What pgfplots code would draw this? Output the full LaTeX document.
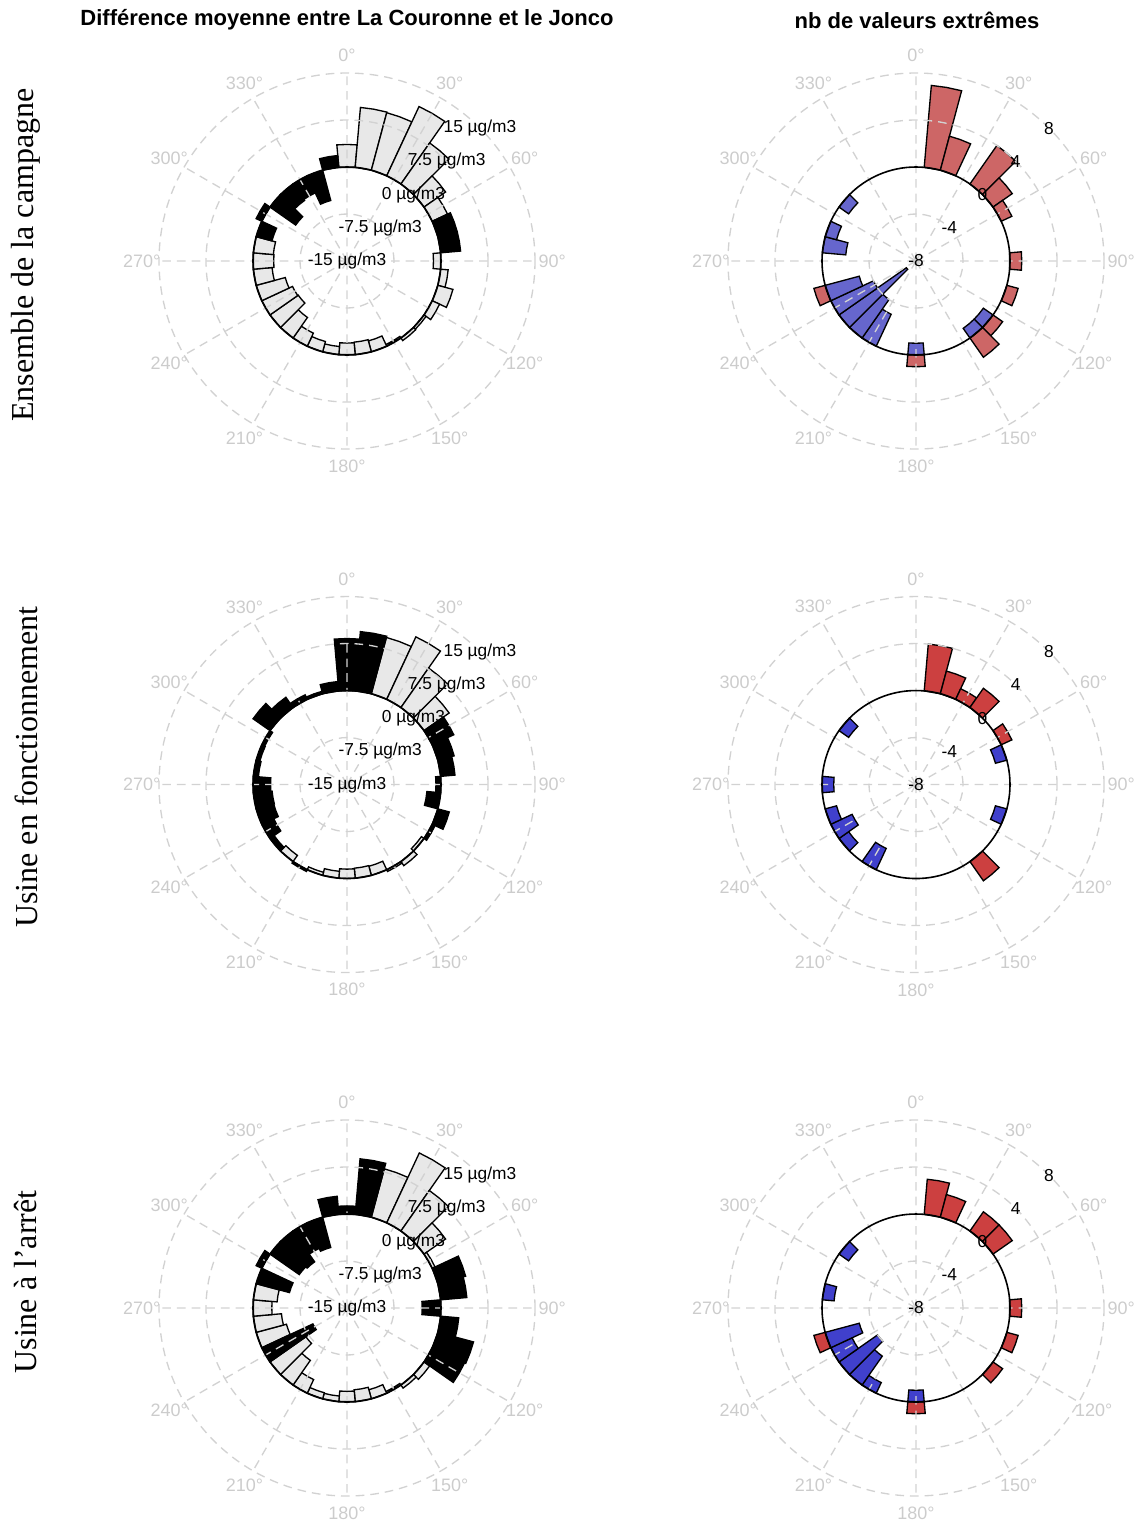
\documentclass[border=0pt]{standalone}
\usepackage{fontspec}
\setmainfont{Liberation Sans}
\newfontfamily\timesfont{Liberation Serif}
\usepackage{pgfplots}
\usepackage{pgfplotstable}
\pgfplotsset{compat=1.18}
\usepgfplotslibrary{polar}

\definecolor{bargray}{RGB}{232,232,232}
\definecolor{gridgray}{RGB}{210,210,210}
\definecolor{labgray}{RGB}{204,204,204}
\definecolor{redA}{RGB}{205,102,102}
\definecolor{blueA}{RGB}{102,102,205}
\definecolor{redB}{RGB}{204,64,64}
\definecolor{blueB}{RGB}{64,64,204}

% ---- Panel 1 : ensemble de la campagne (difference moyenne)
\pgfplotstableread{
a v
0 3.6
10 9.6
20 9.5
30 12.2
40 8.0
50 4.2
60 2.7
90 -1.2
100 1.2
110 2.5
120 1.3
130 0.4
140 0.5
150 -0.3
160 -1.8
170 -2.0
180 -1.9
190 -1.3
200 -1.7
210 -2.3
220 -4.0
230 -5.5
240 -5.4
250 -4.8
260 -3.0
270 -3.3
280 -3.2
}\tAg
\pgfplotstableread{
a v
70 3.2
80 3.2
290 -2.6
300 1.0
310 -5.0
320 -3.2
330 -3.0
340 -5.0
350 1.9
}\tAb
% ---- Panel 3 : usine en fonctionnement
\pgfplotstableread{
a v
20 9.3
30 11.0
40 7.7
50 4.9
130 -0.5
140 0.8
150 0.3
160 -1.5
170 -1.6
180 -1.5
190 -1.1
200 -0.5
220 -1.2
}\tBg
\pgfplotstableread{
a v
0 8.3
10 9.5
60 3.8
70 2.7
80 2.3
90 -0.8
100 -2.2
110 1.9
120 0.5
210 0.3
230 -0.8
240 -2.1
250 -2.9
260 -3.0
270 -2.8
280 -0.8
290 -0.6
300 -0.5
310 3.3
320 2.0
330 0.8
340 0.4
350 1.5
}\tBb
% ---- Panel 5 : usine a l'arret
\pgfplotstableread{
a v
20 8.0
30 12.3
40 7.9
50 4.2
60 0.5
130 1.1
140 0.6
150 -0.3
160 -1.5
170 -1.9
180 -1.7
190 -0.9
200 -1.0
210 -2.4
220 -4.8
230 -7.0
250 -5.0
260 -4.5
270 -3.0
280 -3.8
}\tCg
\pgfplotstableread{
a v
0 1.3
10 8.9
70 4.6
80 4.2
90 -3.0
100 2.9
110 5.9
120 5.7
240 -9.0
290 -5.5
300 1.0
310 -5.7
320 -6.0
330 -4.5
340 -5.0
350 2.9
}\tCb
% ---- Right panels : nb de valeurs extremes (positive = red, negative = blue)
\pgfplotstableread{
a v
10 7
20 3
40 4
50 2
60 1
90 1
110 1
130 1
140 2
180 1
250 1
}\tDr
\pgfplotstableread{
a v
130 -1
140 -1
180 -1
210 -3
220 -4
230 -7
240 -4
250 -3
280 -2
290 -1
310 -1
}\tDb
\pgfplotstableread{
a v
10 4
20 2
30 1
40 2
60 1
140 2
}\tEr
\pgfplotstableread{
a v
70 -1
110 -1
210 -2
230 -1
240 -2
250 -1
270 -1
310 -1
}\tEb
\pgfplotstableread{
a v
10 3
20 2
40 2
50 2
90 1
110 1
130 1
180 1
250 1
}\tFr
\pgfplotstableread{
a v
180 -1
210 -1
220 -3
230 -4
240 -2
250 -3
280 -1
310 -1
}\tFb

% bars of 10 degrees, compass angle a, value v, baseline radius #3
\newcommand{\polarbars}[3]{%
  \pgfplotstablegetrowsof{#1}%
  \pgfmathtruncatemacro{\nlast}{\pgfplotsretval-1}%
  \pgfplotsforeachungrouped \i in {0,...,\nlast}{%
    \pgfplotstablegetelem{\i}{a}\of{#1}\let\ba\pgfplotsretval
    \pgfplotstablegetelem{\i}{v}\of{#1}\let\bv\pgfplotsretval
    \pgfmathsetmacro{\tA}{90-\ba+5}%
    \pgfmathsetmacro{\tM}{90-\ba}%
    \pgfmathsetmacro{\tB}{90-\ba-5}%
    \pgfmathsetmacro{\rr}{#3+\bv}%
    \edef\barcmd{\noexpand\addplot[fill=#2,draw=black,line width=1pt,line join=miter] coordinates {(\tA,#3) (\tA,\rr) (\tM,\rr) (\tB,\rr) (\tB,#3)} -- cycle;}%
    \barcmd
  }%
}

\newcommand{\lfont}{\fontsize{13}{14}\selectfont}
\newcommand{\afont}{\fontsize{13.5}{14}\selectfont}
\newcommand{\anglelabels}[1]{%
  \foreach \c in {0,30,...,330}{%
    \pgfmathsetmacro{\mth}{90-\c}%
    \node[text=labgray, font=\afont, inner sep=0pt] at (axis cs:\mth,#1) {\c°};
  }%
}
\pgfplotsset{
  rosebase/.style={
    scale only axis, width=282pt, height=282pt,
    ymin=0,
    xtick={0,30,...,330},
    xticklabels={},
    yticklabels={},
    grid=major,
    major grid style={gridgray, line width=1pt, dash pattern=on 6.5pt off 4.5pt},
    axis line style={draw=none},
    major tick length=0pt,
    axis on top,
    anchor=center,
    clip=false,
    extra y tick labels={},
    extra y tick style={grid=major, major grid style={black, solid, line width=1.2pt}},
  },
  roseleft/.style={rosebase, ymax=30, ytick={7.5,22.5,30}, extra y ticks={15},
    after end axis/.append code={
      \anglelabels{32.75}
      \node[font=\lfont] at (axis cs:45,30) {15 µg/m3};
      \node[font=\lfont] at (axis cs:45,22.5) {7.5 µg/m3};
      \node[font=\lfont] at (axis cs:45,15) {0 µg/m3};
      \node[font=\lfont] at (axis cs:45,7.5) {-7.5 µg/m3};
      \node[font=\lfont] at (axis cs:45,0) {-15 µg/m3};
    }},
  roseright/.style={rosebase, ymax=16, ytick={4,12,16}, extra y ticks={8},
    after end axis/.append code={
      \anglelabels{17.47}
      \node[font=\lfont] at (axis cs:45,16) {8};
      \node[font=\lfont] at (axis cs:45,12) {4};
      \node[font=\lfont] at (axis cs:45,8) {0};
      \node[font=\lfont] at (axis cs:45,4) {-4};
      \node[font=\lfont] at (axis cs:45,0) {-8};
    }},
}

\begin{document}
\begin{tikzpicture}
\path[use as bounding box] (0pt,0pt) rectangle (853.5pt,-1140.75pt);

% titles
\node[font=\bfseries\fontsize{16.5}{18}\selectfont] at (260.25pt,-15pt) {Différence moyenne entre La Couronne et le Jonco};
\node[font=\bfseries\fontsize{16.5}{18}\selectfont] at (687.75pt,-15pt) {nb de valeurs extrêmes};
% row labels
\node[rotate=90, font=\timesfont\fontsize{24}{26}\selectfont] at (19.5pt,-191.25pt) {Ensemble de la campagne};
\node[rotate=90, font=\timesfont\fontsize{24}{26}\selectfont] at (19.5pt,-575.25pt) {Usine en fonctionnement};
\node[rotate=90, font=\timesfont\fontsize{24}{26}\selectfont] at (19.5pt,-961.5pt) {Usine à l’arrêt};

% ---- row 1
\begin{polaraxis}[roseleft, at={(260.25pt,-195.75pt)}]
\polarbars{\tAg}{bargray}{15}
\polarbars{\tAb}{black}{15}
\end{polaraxis}
\begin{polaraxis}[roseright, at={(687pt,-195.75pt)}]
\polarbars{\tDr}{redA}{8}
\polarbars{\tDb}{blueA}{8}
\end{polaraxis}

% ---- row 2
\begin{polaraxis}[roseleft, at={(260.25pt,-588.4pt)}]
\polarbars{\tBg}{bargray}{15}
\polarbars{\tBb}{black}{15}
\end{polaraxis}
\begin{polaraxis}[roseright, at={(687pt,-588.4pt)}]
\polarbars{\tEr}{redB}{8}
\polarbars{\tEb}{blueB}{8}
\end{polaraxis}

% ---- row 3
\begin{polaraxis}[roseleft, at={(260.25pt,-981pt)}]
\polarbars{\tCg}{bargray}{15}
\polarbars{\tCb}{black}{15}
\end{polaraxis}
\begin{polaraxis}[roseright, at={(687pt,-981pt)}]
\polarbars{\tFr}{redB}{8}
\polarbars{\tFb}{blueB}{8}
\end{polaraxis}
\end{tikzpicture}
\end{document}
